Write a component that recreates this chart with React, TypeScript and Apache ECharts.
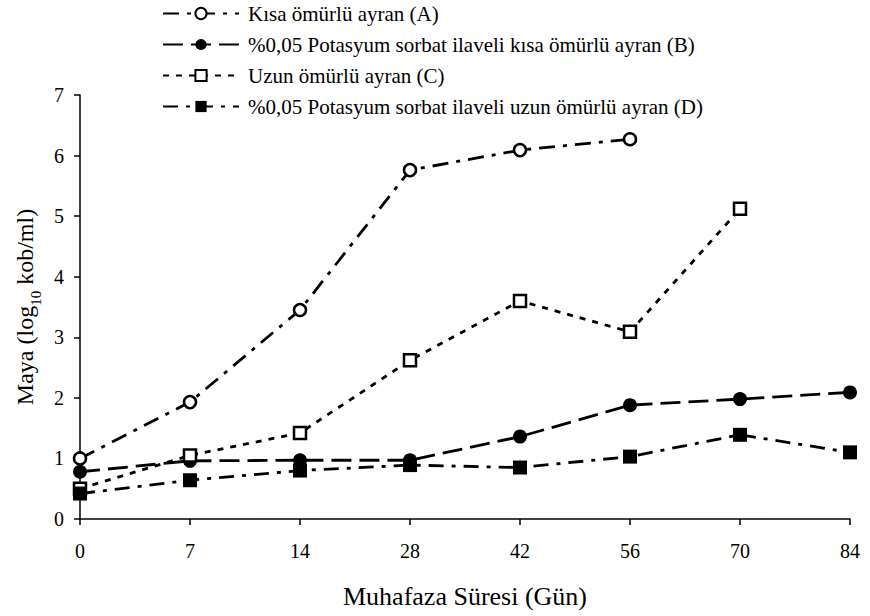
import React, { useEffect, useRef } from "react";
import * as echarts from "echarts";

const days = ["0", "7", "14", "28", "42", "56", "70", "84"];
const seriesA = [1.0, 1.93, 3.45, 5.76, 6.09, 6.27, null, null];
const seriesB = [0.78, 0.96, 0.97, 0.97, 1.36, 1.88, 1.98, 2.09];
const seriesC = [0.5, 1.05, 1.42, 2.62, 3.6, 3.09, 5.12, null];
const seriesD = [0.42, 0.64, 0.8, 0.89, 0.85, 1.03, 1.39, 1.1];
const names = [
  "Kısa ömürlü ayran (A)",
  "%0,05 Potasyum sorbat ilaveli kısa ömürlü ayran (B)",
  "Uzun ömürlü ayran (C)",
  "%0,05 Potasyum sorbat ilaveli uzun ömürlü ayran (D)",
];

const FONT = "Liberation Serif";

export default function App() {
  const ref = useRef<HTMLDivElement>(null);
  useEffect(() => {
    if (!ref.current) return;
    const chart = echarts.init(ref.current, undefined, { renderer: "svg" });
    const mk = (
      name: string,
      data: (number | null)[],
      symbol: string,
      open: boolean,
      dash: number[]
    ) => ({
      name,
      type: "line",
      data,
      symbol,
      symbolSize: open ? 12 : 14,
      showSymbol: true,
      connectNulls: false,
      lineStyle: { color: "#000", width: 2.8, type: dash },
      itemStyle: {
        color: open ? "#fff" : "#000",
        borderColor: "#000",
        borderWidth: open ? 2.5 : 0,
      },
      emphasis: { disabled: true },
    });
    chart.setOption({
      animation: false,
      textStyle: { fontFamily: FONT, color: "#000" },
      legend: {
        orient: "vertical",
        left: 157,
        top: -2,
        itemWidth: 76,
        itemHeight: 14,
        itemGap: 10,
        textStyle: { fontFamily: FONT, fontSize: 21, color: "#000", padding: [0, 0, 0, 4] },
        data: names,
      },
      grid: { left: 80, right: 20, top: 95, bottom: 97 },
      xAxis: {
        type: "category",
        data: days,
        boundaryGap: false,
        name: "Muhafaza Süresi (Gün)",
        nameLocation: "middle",
        nameGap: 64,
        nameTextStyle: { fontFamily: FONT, fontSize: 26, color: "#000" },
        axisLine: { lineStyle: { color: "#000", width: 1.5 } },
        axisTick: { alignWithLabel: true, length: 6, lineStyle: { color: "#000", width: 1.5 } },
        axisLabel: { fontFamily: FONT, fontSize: 20, color: "#000", margin: 22 },
        splitLine: { show: false },
      },
      yAxis: {
        type: "value",
        min: 0,
        max: 7,
        interval: 1,
        name: "{a|Maya (log}{s|10}{a| kob/ml)}",
        nameLocation: "middle",
        nameGap: 30,
        nameTextStyle: {
          fontFamily: FONT,
          color: "#000",
          rich: {
            a: { fontFamily: FONT, fontSize: 24, color: "#000", padding: [0, 0, 6, 0] },
            s: { fontFamily: FONT, fontSize: 15, color: "#000", verticalAlign: "bottom" },
          },
        },
        axisLine: { show: true, lineStyle: { color: "#000", width: 1.5 } },
        axisTick: { show: true, length: 6, lineStyle: { color: "#000", width: 1.5 } },
        axisLabel: { fontFamily: FONT, fontSize: 20, color: "#000", margin: 16 },
        splitLine: { show: false },
      },
      series: [
        mk(names[0], seriesA, "circle", true, [16, 8, 4, 8]),
        mk(names[1], seriesB, "circle", false, [20, 8]),
        mk(names[2], seriesC, "rect", true, [6, 7]),
        mk(names[3], seriesD, "rect", false, [15, 8, 4, 8]),
      ],
    });
    return () => chart.dispose();
  }, []);
  return (
    <div
      ref={ref}
      style={{ position: "absolute", left: 0, top: 0, width: 870, height: 616 }}
    />
  );
}
